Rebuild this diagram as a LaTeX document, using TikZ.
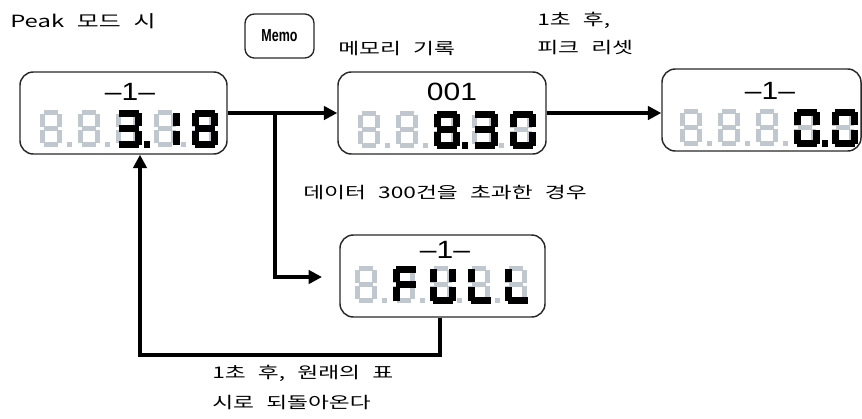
\documentclass[tikz,border=0pt]{standalone}
\usepackage{fontspec}
\usetikzlibrary{arrows.meta,fit}
\newfontfamily\kr[WordSpace=2.4]{Noto Sans CJK KR}
\newfontfamily\lib{Liberation Sans}
\definecolor{lcdgrey}{RGB}{192,199,206}
\definecolor{boxline}{RGB}{40,40,40}
\newcommand\sx[1]{\scalebox{1.42}[1]{#1}}
\newcommand\lx[1]{\scalebox{1.2}[1]{#1}}
% seven segment pieces: #1 x0, #2 y0, #3 W, #4 H, #5 T, #6 colour; \nch = corner notch
\def\nch{4}
\newcommand\segXn[6]{}
\newcommand\segXa[6]{\fill[#6] (#1+\nch,#2) rectangle (#1+#3-\nch,#2+#5);}
\newcommand\segXb[6]{\fill[#6] (#1+#3-#5,#2+\nch) rectangle (#1+#3,#2+#4/2-#5/2+1);}
\newcommand\segXc[6]{\fill[#6] (#1+#3-#5,#2+#4/2+#5/2-1) rectangle (#1+#3,#2+#4-\nch);}
\newcommand\segXd[6]{\fill[#6] (#1+\nch,#2+#4-#5) rectangle (#1+#3-\nch,#2+#4);}
\newcommand\segXe[6]{\fill[#6] (#1,#2+#4/2+#5/2-1) rectangle (#1+#5,#2+#4-\nch);}
\newcommand\segXf[6]{\fill[#6] (#1,#2+\nch) rectangle (#1+#5,#2+#4/2-#5/2+1);}
\newcommand\segXg[6]{\fill[#6] (#1+\nch,#2+#4/2-#5/2) rectangle (#1+#3-\nch,#2+#4/2+#5/2);}
% digit: #1 x, #2 y, #3 lit segments, #4 dp (0 none, 1 grey, 2 black)
\newcommand\lcddig[4]{%
  \def\nch{4}%
  \foreach \s in {a,b,c,d,e,f,g}{\csname segX\s\endcsname{#1}{#2}{22}{37}{5}{lcdgrey}}%
  \ifcase#4\relax\or\fill[lcdgrey] (#1+27,#2+32) rectangle (#1+32,#2+37);\or\fill[black] (#1+28,#2+31) rectangle (#1+34,#2+38);\fi
  \def\nch{3}%
  \foreach \s in {#3}{\csname segX\s\endcsname{#1}{#2-0.5}{26}{38}{7}{black}}%
}
\tikzset{
  lcdbox/.style={draw=boxline,line width=1.1pt,rounded corners=10pt,inner sep=0pt},
  memobox/.style={draw=boxline,line width=1pt,rounded corners=7pt,inner sep=0pt},
  ktext/.style={font=\kr\fontsize{12}{14}\selectfont,inner sep=0pt,anchor=west},
  ltext/.style={font=\lib\fontsize{18.75}{20}\selectfont,inner sep=0pt},
  conn/.style={line width=3pt,-{Triangle[length=10pt,width=10pt]}}
}
\begin{document}
\begin{tikzpicture}[x=0.75pt,y=-0.75pt]
\useasboundingbox (0,0) rectangle (862,418);
\clip (0,0) rectangle (862,418);

% boxes
\node[lcdbox, fit={(20,72) (227,154)}] (b1) {};
\node[lcdbox, fit={(338,72) (546,154)}] (b2) {};
\node[lcdbox, fit={(662,69) (861,151)}] (b3) {};
\node[lcdbox, fit={(340,235) (545,317)}] (b4) {};
\node[memobox, fit={(245,14) (314,58)}] (memo) {};
\node[font=\lib\bfseries\fontsize{13}{14}\selectfont, inner sep=0pt] (memot) at (memo.center) {\scalebox{0.72}[1]{Memo}};

% display headers
\node[ltext] (h1) at (130,92) {\lx{–1–}};
\node[ltext] (h2) at (452,92) {\lx{001}};
\node[ltext] (h3) at (770,91) {\lx{–1–}};
\node[ltext] (h4) at (445,250) {\lx{–1–}};

% box 1: 3.18
\lcddig{40}{110}{n}{1}
\lcddig{78}{110}{n}{1}
\lcddig{116}{110}{a,b,c,d,g}{2}
\lcddig{154}{110}{b,c}{1}
\lcddig{192}{110}{a,b,c,d,e,f,g}{0}
% box 2: 8.30
\lcddig{358}{111}{n}{1}
\lcddig{396}{111}{n}{1}
\lcddig{434}{111}{a,b,c,d,e,f,g}{2}
\lcddig{472}{111}{a,b,c,d,g}{1}
\lcddig{510}{111}{a,b,c,d,e,f}{0}
% box 3: 0.0
\lcddig{680}{109}{n}{1}
\lcddig{718}{109}{n}{1}
\lcddig{756}{109}{n}{1}
\lcddig{794}{109}{a,b,c,d,e,f}{2}
\lcddig{832}{109}{a,b,c,d,e,f}{0}
% box 4: FULL
\lcddig{355}{266}{n}{1}
\lcddig{392.5}{266}{a,e,f,g}{1}
\lcddig{430}{266}{b,c,d,e,f}{1}
\lcddig{467.5}{266}{d,e,f}{1}
\lcddig{505}{266}{d,e,f}{0}

% texts
\node[ktext, font=\kr\fontsize{12.6}{14}\selectfont] (tpeak) at (10,21) {\sx{Peak 모드 시}};
\node[ktext] (tmem) at (338,49) {\sx{메모리 기록}};
\node[ktext] (tr1) at (537,20) {\sx{1초 후,}};
\node[ktext] (tr2) at (537,48) {\sx{피크 리셋}};
\node[ktext] (tover) at (303,193) {\sx{데이터 300건을 초과한 경우}};
\node[ktext] (tb1) at (212,373) {\sx{1초 후, 원래의 표}};
\node[ktext] (tb2) at (212,403) {\sx{시로 되돌아온다}};

% connectors
\coordinate (j) at (275,113);
\coordinate (ftip) at (322,277);
\coordinate (r1) at (440,355);
\coordinate (r2) at (140,355);
\draw[conn] (b1.east) -- (b1.east -| b2.west);
\draw[conn] (j) |- (ftip);
\draw[conn] (b2.east) -- (b2.east -| b3.west);
\draw[conn] (r1 |- b4.south) -- (r1) -- (r2) -- (r2 |- b1.south);
\end{tikzpicture}
\end{document}
